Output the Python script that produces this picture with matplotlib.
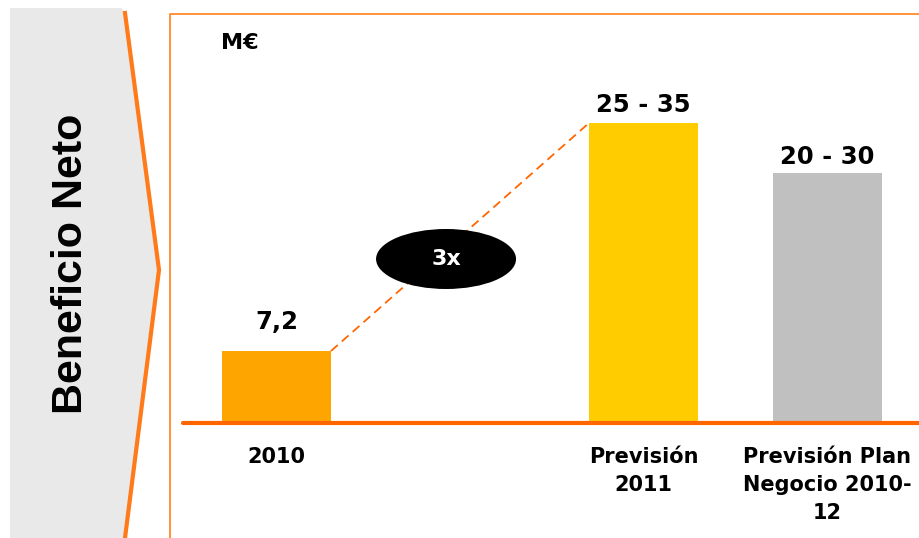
import matplotlib.pyplot as plt
import numpy as np
from matplotlib.patches import Polygon, Ellipse

# data
categories = ['2010', 'Previsión\n2011', 'Previsión Plan\nNegocio 2010-\n12']
values = [7.2, 30, 25]          # midpoints of the ranges
value_labels = ['7,2', '25 - 35', '20 - 30']
positions = [0, 2, 3]
colors = ['#ffa500', '#ffcc00', '#c0c0c0']
label_offsets = [17, 6, 4]      # px gap above bar
multiplier = '3x'

W, H = 919, 538
fig = plt.figure(figsize=(W / 100, H / 100), dpi=100)
ax = fig.add_axes([0, 0, 1, 1])
ax.set_xlim((0 - 276.5) / 183.5, (W - 276.5) / 183.5)
ax.set_ylim((423 - H) / 10, 423 / 10)
ax.axis('off')


def px(x, y):
    # pixel (from top-left) -> axes fraction
    return x / W, 1 - y / H


orange = '#ff7a1a'

# left grey panel with chevron
panel = [px(10, 8), px(122, 8), px(124, 13), px(159, 270), px(124, 538), px(10, 538)]
ax.add_patch(Polygon(panel, closed=True, transform=ax.transAxes,
                     facecolor='#e9e9e9', edgecolor='none', zorder=0))
chev = np.array([px(125, 13), px(159, 270), px(125, 538)])
ax.plot(chev[:, 0], chev[:, 1], color=orange, lw=3, transform=ax.transAxes,
        solid_joinstyle='miter', clip_on=False)
ax.text(*px(71, 264), 'Beneficio Neto', rotation=90, transform=ax.transAxes,
        ha='center', va='center', fontsize=31, fontweight='bold',
        family=['Liberation Sans', 'Arial', 'DejaVu Sans'], color='black')

# orange frame (open on right / bottom)
fr = np.array([px(170, H), px(170, 14), px(W, 14)])
ax.plot(fr[:, 0], fr[:, 1], color='#ff8a2a', lw=1.3, transform=ax.transAxes)

ax.text(*px(221, 43), 'M€', transform=ax.transAxes, ha='left', va='center',
        fontsize=16, fontweight='bold', family='DejaVu Sans')

# bars
width = 109 / 183.5
bars = ax.bar(positions, values, width=width, color=colors, zorder=2)

# baseline
ax.axhline(0, xmin=183 / W, xmax=1, color='#ff6600', lw=3,
           solid_capstyle='round', zorder=3)

for b, lab, off in zip(bars, value_labels, label_offsets):
    ax.annotate(lab, (b.get_x() + b.get_width() / 2, b.get_height()),
                xytext=(0, off * 0.72), textcoords='offset points',
                ha='center', va='bottom', fontsize=17.5, fontweight='bold',
                family='DejaVu Sans')

for p, c in zip(positions, categories):
    ax.text(p, -2.4, c, ha='center', va='top', fontsize=15, fontweight='bold',
            family='DejaVu Sans', linespacing=1.5)

# dashed growth line
b0, b1 = bars[0], bars[1]
ax.plot([b0.get_x() + b0.get_width(), b1.get_x()],
        [b0.get_height(), b1.get_height()], color='#ff6600', lw=1.3,
        ls=(0, (5, 3)), zorder=1)

ax.add_patch(Ellipse((0.924, 16.4), 140 / 183.5, 6.0, facecolor='black',
                     edgecolor='none', zorder=4))
ax.text(0.924, 16.4, multiplier, ha='center', va='center', color='white',
        fontsize=16, fontweight='bold', family='DejaVu Sans', zorder=5)

fig.savefig('out.png', dpi=100)
